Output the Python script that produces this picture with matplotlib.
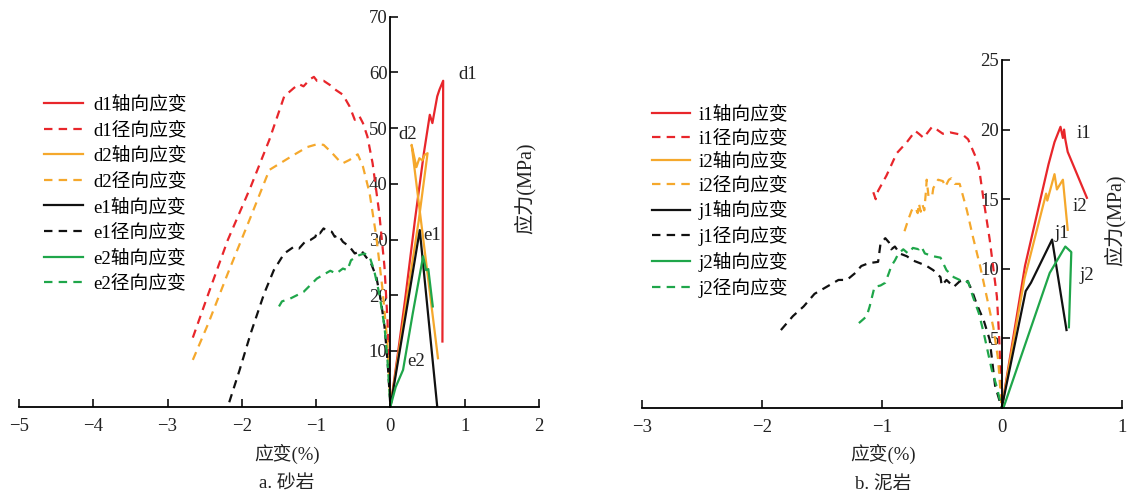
import matplotlib
matplotlib.use("Agg")
import matplotlib.pyplot as plt

plt.rcParams['font.family'] = ['Liberation Serif', 'Noto Sans CJK SC']
plt.rcParams['axes.unicode_minus'] = True

RED = '#e8262b'
ORANGE = '#f5a82c'
BLACK = '#111111'
GREEN = '#1fa64a'

# ---- a. sandstone (d1, d2, e1, e2) ----
d1_ax_x = [0.0, 0.10, 0.20, 0.33, 0.45, 0.53, 0.565, 0.63, 0.66, 0.71, 0.70]
d1_ax_y = [0.0, 9.5, 19.5, 33.5, 45.5, 52.4, 50.9, 55.7, 56.9, 58.5, 11.7]
d1_rad_x = [-2.66, -2.45, -2.19, -1.88, -1.63, -1.43, -1.30, -1.23, -1.17, -1.08, -1.03,
            -0.99, -0.90, -0.81, -0.73, -0.64, -0.55, -0.48, -0.42, -0.37, -0.31, -0.24,
            -0.15, -0.08, -0.04, -0.02, 0.0]
d1_rad_y = [12.4, 20.3, 29.9, 39.5, 47.9, 55.7, 57.2, 57.9, 57.5, 58.8, 59.2,
            58.5, 58.5, 57.7, 56.8, 56.0, 53.9, 51.5, 52.2, 50.9, 48.5, 43.7,
            34.7, 25.1, 15.6, 8.4, 0.0]

d2_ax_x = [0.0, 0.12, 0.25, 0.38, 0.50, 0.46, 0.43, 0.39, 0.35, 0.285, 0.64]
d2_ax_y = [0.0, 10.5, 22.0, 33.3, 45.5, 45.2, 44.2, 44.6, 43.0, 47.0, 8.7]
d2_rad_x = [-2.66, -2.45, -2.19, -1.88, -1.63, -1.52, -1.30, -1.12, -0.99, -0.90, -0.79,
            -0.68, -0.64, -0.55, -0.44, -0.37, -0.28, -0.19, -0.11, -0.04, 0.0]
d2_rad_y = [8.4, 15.0, 23.9, 34.1, 42.5, 43.4, 45.2, 46.6, 47.1, 47.0, 45.6,
            44.0, 43.7, 44.3, 45.3, 43.1, 38.3, 30.5, 21.5, 11.4, 0.0]

e1_ax_x = [0.0, 0.20, 0.395, 0.63]
e1_ax_y = [0.0, 16.0, 31.7, 0.0]
e1_rad_x = [-2.17, -2.03, -1.88, -1.70, -1.57, -1.43, -1.30, -1.23, -1.15, -1.08, -1.01,
            -0.99, -0.95, -0.90, -0.86, -0.79, -0.75, -0.70, -0.64, -0.55, -0.48, -0.39,
            -0.33, -0.26, -0.19, -0.13, -0.08, -0.04, 0.0]
e1_rad_y = [0.8, 6.6, 13.2, 20.3, 24.5, 27.5, 28.7, 28.4, 29.6, 29.9, 30.5,
            31.4, 31.1, 32.0, 31.6, 31.4, 30.5, 30.8, 29.6, 28.7, 27.5, 28.0,
            26.9, 25.7, 23.3, 19.2, 14.4, 8.4, 0.0]

e2_ax_x = [0.0, 0.07, 0.17, 0.30, 0.44, 0.48, 0.51, 0.57]
e2_ax_y = [0.0, 3.5, 6.6, 16.7, 27.0, 24.5, 24.7, 18.0]
e2_rad_x = [-1.50, -1.46, -1.35, -1.17, -1.08, -0.99, -0.81, -0.73, -0.64, -0.58, -0.53,
            -0.42, -0.35, -0.28, -0.22, -0.15, -0.08, -0.04, 0.0]
e2_rad_y = [18.0, 18.9, 19.4, 20.6, 21.8, 23.0, 24.4, 23.9, 24.8, 24.5, 26.3,
            27.2, 27.5, 26.9, 24.5, 20.3, 14.4, 8.4, 0.0]

# ---- b. mudstone (i1, i2, j1, j2) ----
i1_ax_x = [0.0, 0.194, 0.39, 0.44, 0.49, 0.51, 0.52, 0.53, 0.55, 0.71]
i1_ax_y = [0.0, 10.2, 17.5, 19.1, 20.2, 19.4, 20.0, 19.3, 18.4, 15.1]
i1_rad_x = [-1.07, -1.05, -1.03, -0.96, -0.875, -0.79, -0.72, -0.69, -0.65, -0.625, -0.58,
            -0.54, -0.49, -0.43, -0.32, -0.28, -0.22, -0.19, -0.15, -0.10, -0.04, -0.02, 0.0]
i1_rad_y = [15.5, 15.0, 15.6, 16.7, 18.3, 19.1, 19.9, 19.7, 19.4, 19.7, 20.2,
            20.0, 19.7, 19.8, 19.6, 19.3, 18.1, 17.3, 14.9, 12.1, 8.0, 4.9, 0.0]

i2_ax_x = [0.0, 0.19, 0.37, 0.38, 0.44, 0.46, 0.51, 0.55]
i2_ax_y = [0.0, 9.3, 15.4, 14.9, 16.8, 15.7, 16.4, 12.8]
i2_rad_x = [-0.81, -0.78, -0.75, -0.72, -0.70, -0.69, -0.675, -0.66, -0.645, -0.63, -0.625,
            -0.61, -0.58, -0.57, -0.53, -0.49, -0.47, -0.44, -0.42, -0.39, -0.35, -0.29,
            -0.24, -0.18, -0.125, -0.07, -0.03, 0.0]
i2_rad_y = [12.7, 13.5, 14.2, 14.4, 14.0, 14.7, 14.1, 14.6, 14.2, 15.7, 16.4,
            15.2, 15.2, 15.8, 16.4, 16.3, 15.9, 16.4, 16.5, 16.1, 16.1, 14.2,
            12.3, 10.2, 8.0, 5.8, 3.5, 0.0]

j1_ax_x = [0.0, 0.20, 0.244, 0.42, 0.54]
j1_ax_y = [0.0, 8.4, 9.0, 12.1, 5.6]
j1_rad_x = [-1.84, -1.74, -1.65, -1.56, -1.46, -1.36, -1.29, -1.22, -1.17, -1.11, -1.03,
            -1.01, -0.97, -0.94, -0.92, -0.89, -0.85, -0.79, -0.74, -0.68, -0.625, -0.57,
            -0.51, -0.50, -0.46, -0.40, -0.35, -0.29, -0.25, -0.21, -0.15, -0.10, -0.055, 0.0]
j1_rad_y = [5.6, 6.6, 7.3, 8.2, 8.7, 9.2, 9.2, 9.7, 10.2, 10.4, 10.5,
            11.8, 12.2, 11.9, 11.4, 11.6, 11.1, 10.9, 10.6, 10.4, 10.2, 9.9,
            9.4, 8.8, 9.2, 8.7, 9.1, 9.2, 8.5, 7.5, 6.3, 4.9, 1.6, 0.0]

j2_ax_x = [0.014, 0.40, 0.53, 0.58, 0.56]
j2_ax_y = [0.0, 9.7, 11.6, 11.2, 5.8]
j2_rad_x = [-1.19, -1.15, -1.125, -1.10, -1.06, -1.01, -0.97, -0.94, -0.92, -0.89, -0.86,
            -0.82, -0.78, -0.74, -0.69, -0.67, -0.64, -0.57, -0.51, -0.46, -0.40, -0.35,
            -0.31, -0.28, -0.24, -0.19, -0.15, -0.083, -0.042, 0.0]
j2_rad_y = [6.1, 6.4, 6.6, 7.3, 8.7, 8.8, 9.0, 9.7, 10.2, 10.6, 11.1,
            11.4, 11.1, 11.5, 11.4, 11.6, 11.1, 10.9, 10.8, 9.9, 9.4, 9.2,
            9.0, 9.1, 8.0, 6.8, 5.4, 2.75, 1.55, 0.0]

FS = 13.5
LW = 1.6
DASH = (0, (3.8, 2.8))
TXT = '#222222'


def style_axes(ax, xlim, ylim, xticks, yticks):
    ax.set_xlim(*xlim)
    ax.set_ylim(*ylim)
    for s in ['top', 'right']:
        ax.spines[s].set_visible(False)
    ax.spines['left'].set_position(('data', 0))
    ax.spines['left'].set_linewidth(1.3)
    ax.spines['bottom'].set_linewidth(1.3)
    ax.patch.set_alpha(0)
    ax.set_xticks(xticks)
    ax.set_yticks(yticks)
    ax.tick_params(axis='both', direction='in', length=6, width=1.3, labelsize=FS, colors=TXT)
    ax.tick_params(axis='x', pad=8)
    ax.tick_params(axis='y', pad=2)


def draw_panel(ax, series):
    for name, ax_x, ax_y, rad_x, rad_y, color in series:
        ax.plot(ax_x, ax_y, color=color, lw=LW, label=name + '轴向应变')
        ax.plot(rad_x, rad_y, color=color, lw=LW, ls=DASH, label=name + '径向应变')


fig = plt.figure(figsize=(11.28, 4.94), dpi=100)

# left panel
ax1 = fig.add_axes([19 / 1128, 1 - 406.7 / 494, 520 / 1128, 390 / 494])
draw_panel(ax1, [
    ('d1', d1_ax_x, d1_ax_y, d1_rad_x, d1_rad_y, RED),
    ('d2', d2_ax_x, d2_ax_y, d2_rad_x, d2_rad_y, ORANGE),
    ('e1', e1_ax_x, e1_ax_y, e1_rad_x, e1_rad_y, BLACK),
    ('e2', e2_ax_x, e2_ax_y, e2_rad_x, e2_rad_y, GREEN),
])
style_axes(ax1, (-5, 2), (0, 70), [-5, -4, -3, -2, -1, 0, 1, 2], [10, 20, 30, 40, 50, 60, 70])
for txt, x, y in [('d1', 1.04, 59.7), ('d2', 0.237, 48.8), ('e1', 0.56, 30.8), ('e2', 0.34, 8.1)]:
    ax1.text(x, y, txt, fontsize=FS, ha='center', va='center', color=TXT)
ax1.legend(loc='upper left', bbox_to_anchor=(44 / 1128, 1 - 96 / 494), bbox_transform=fig.transFigure,
           frameon=False, fontsize=FS, handlelength=2.1, handletextpad=0.55, labelspacing=0.42,
           borderpad=0, borderaxespad=0)

# right panel
ax2 = fig.add_axes([641.7 / 1128, 1 - 408 / 494, 480 / 1128, 348 / 494])
draw_panel(ax2, [
    ('i1', i1_ax_x, i1_ax_y, i1_rad_x, i1_rad_y, RED),
    ('i2', i2_ax_x, i2_ax_y, i2_rad_x, i2_rad_y, ORANGE),
    ('j1', j1_ax_x, j1_ax_y, j1_rad_x, j1_rad_y, BLACK),
    ('j2', j2_ax_x, j2_ax_y, j2_rad_x, j2_rad_y, GREEN),
])
style_axes(ax2, (-3, 1), (0, 25), [-3, -2, -1, 0, 1], [5, 10, 15, 20, 25])
for txt, x, y in [('i1', 0.686, 19.7), ('i2', 0.65, 14.5), ('j1', 0.50, 12.55), ('j2', 0.71, 9.55)]:
    ax2.text(x, y, txt, fontsize=FS, ha='center', va='center', color=TXT)
ax2.legend(loc='upper left', bbox_to_anchor=(652 / 1128, 1 - 106 / 494), bbox_transform=fig.transFigure,
           frameon=False, fontsize=FS, handlelength=2.0, handletextpad=0.5, labelspacing=0.31,
           borderpad=0, borderaxespad=0)

# axis titles and captions
fig.text(525 / 1128, 1 - 188 / 494, '应力(MPa)', rotation=90, ha='center', va='center', fontsize=FS + 1, color=TXT)
fig.text(1115 / 1128, 1 - 220 / 494, '应力(MPa)', rotation=90, ha='center', va='center', fontsize=FS + 1, color=TXT)
fig.text(287 / 1128, 1 - 454 / 494, '应变(%)', ha='center', va='center', fontsize=FS, color=TXT)
fig.text(883 / 1128, 1 - 454 / 494, '应变(%)', ha='center', va='center', fontsize=FS, color=TXT)
fig.text(287 / 1128, 1 - 484 / 494, 'a. 砂岩', ha='center', va='center', fontsize=FS, color=TXT)
fig.text(883 / 1128, 1 - 484 / 494, 'b. 泥岩', ha='center', va='center', fontsize=FS, color=TXT)

fig.savefig('out.png', dpi=100)
